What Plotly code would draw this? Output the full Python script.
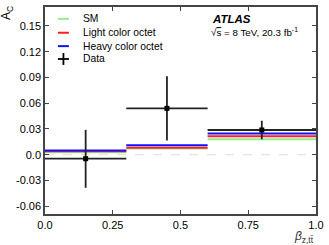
import plotly.graph_objects as go

bin_edges = [0.0, 0.3, 0.6, 1.0]
sm = [0.003, 0.0072, 0.018]
light_octet = [0.004, 0.008, 0.0215]
heavy_octet = [0.005, 0.0110, 0.0247]

data_x = [0.15, 0.45, 0.8]
data_y = [-0.0046, 0.0540, 0.0288]
err_plus = [0.0336, 0.0375, 0.0108]
err_minus = [0.0339, 0.0375, 0.0108]

x_ticks = [0.0, 0.25, 0.5, 0.75, 1.0]
x_tick_labels = ["0.0", "0.25", "0.5", "0.75", "1.0"]
y_ticks = [-0.06, -0.03, 0.0, 0.03, 0.06, 0.09, 0.12, 0.15]
y_tick_labels = ["-0.06", "-0.03", "0.0", "0.03", "0.06", "0.09", "0.12", "0.15"]

W, H = 329, 245
ML, MR, MT, MB = 45, 12, 5, 31
PW, PH = W - ML - MR, H - MT - MB


def px_x(px):
    return (px - ML) / PW


def px_y(py):
    return (H - MB - py) / PH


def steps(vals):
    xs, ys = [], []
    for i, v in enumerate(vals):
        xs += [bin_edges[i], bin_edges[i + 1], None]
        ys += [v, v, None]
    return xs, ys


fig = go.Figure()

# zero reference line
fig.add_trace(go.Scatter(x=[bin_edges[0], bin_edges[-1]], y=[0, 0], mode="lines",
                         line=dict(color="#dddddd", width=1.2, dash="dash"),
                         showlegend=False, hoverinfo="skip"))

series = [("SM", sm, "#90ee90"),
          ("Light color octet", light_octet, "#ff2020"),
          ("Heavy color octet", heavy_octet, "#1010ff")]
for name, vals, col in series:
    xs, ys = steps(vals)
    fig.add_trace(go.Scatter(x=xs, y=ys, mode="lines", name=name, showlegend=False,
                             line=dict(color=col, width=2)))

# data
fig.add_trace(go.Scatter(
    x=data_x, y=data_y, mode="markers", name="Data", showlegend=False,
    marker=dict(color="black", size=5, symbol="square"),
    error_x=dict(type="data", array=[(bin_edges[i + 1] - bin_edges[i]) / 2 for i in range(3)],
                 color="#222222", thickness=1.8, width=0),
    error_y=dict(type="data", array=err_plus, arrayminus=err_minus,
                 color="#222222", thickness=1.8, width=0)))

# manual legend (compact spacing like the reference)
leg_font = dict(family="Liberation Sans, Arial", size=10.3, color="black")
leg_y = [17, 31, 44.5, 57.5]
for i, (name, vals, col) in enumerate(series):
    yy = px_y(leg_y[i])
    fig.add_shape(type="line", xref="paper", yref="paper", x0=px_x(58), x1=px_x(69),
                  y0=yy, y1=yy, line=dict(color=col, width=2))
    fig.add_annotation(x=px_x(81), y=yy, xref="paper", yref="paper", xanchor="left",
                       yanchor="middle", text=name, showarrow=False, font=leg_font)
yy = px_y(leg_y[3])
fig.add_shape(type="line", xref="paper", yref="paper", x0=px_x(58), x1=px_x(69),
              y0=yy, y1=yy, line=dict(color="black", width=1.8))
fig.add_shape(type="line", xref="paper", yref="paper", x0=px_x(63.5), x1=px_x(63.5),
              y0=px_y(leg_y[3] - 6), y1=px_y(leg_y[3] + 6), line=dict(color="black", width=1.8))
fig.add_annotation(x=px_x(81), y=yy, xref="paper", yref="paper", xanchor="left",
                   yanchor="middle", text="Data", showarrow=False, font=leg_font)

fig.add_annotation(x=px_x(211), y=px_y(9), xref="paper", yref="paper", xanchor="left", yanchor="top",
                   text="<b><i>ATLAS</i></b>", showarrow=False,
                   font=dict(family="Liberation Sans, Arial", size=11.5, color="black"))
fig.add_annotation(x=px_x(210), y=px_y(22), xref="paper", yref="paper", xanchor="left", yanchor="top",
                   text="√<span style='text-decoration:overline'>s</span> = 8 TeV, 20.3 fb<sup>-1</sup>",
                   showarrow=False,
                   font=dict(family="Liberation Sans, Arial", size=9.8, color="black"))

fig.update_layout(
    width=W, height=H,
    margin=dict(l=ML, r=MR, t=MT, b=MB),
    paper_bgcolor="white", plot_bgcolor="white",
    font=dict(family="Liberation Sans, Arial", size=11, color="black"),
    showlegend=False,
    xaxis=dict(range=[0, 1], tickvals=x_ticks, ticktext=x_tick_labels,
               ticks="inside", ticklen=4, tickcolor="#444", mirror="ticks",
               showline=True, linecolor="#444", linewidth=1.5, showgrid=False,
               zeroline=False),
    yaxis=dict(range=[-0.069, 0.172], tickvals=y_ticks, ticktext=y_tick_labels,
               ticks="inside", ticklen=4, tickcolor="#444", mirror="ticks",
               showline=True, linecolor="#444", linewidth=1.5, showgrid=False,
               zeroline=False),
)

fig.add_annotation(x=0.0, y=1.0, xref="paper", yref="paper", xanchor="right", yanchor="top",
                   xshift=-28, yshift=3, text="A<sub>C</sub>", textangle=-90, showarrow=False,
                   font=dict(size=12))
fig.add_annotation(x=1.0, y=0.0, xref="paper", yref="paper", xanchor="right", yanchor="top",
                   yshift=-13, text="<i>β</i><sub>z,tt̄</sub>", showarrow=False,
                   font=dict(size=12, color="#333"))

fig.write_html("out.html", config={"displayModeBar": False},
               post_script="document.body.style.margin='0';document.body.style.overflow='hidden';")
